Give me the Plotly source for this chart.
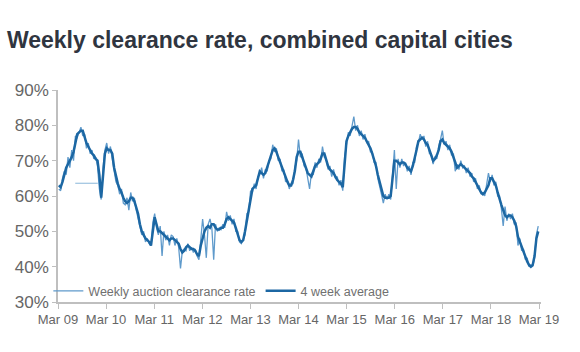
import pandas as pd
import plotly.graph_objects as go

# Fortnightly observation dates (Mar 2009 - Feb 2019)
dates = pd.date_range("2009-03-07", periods=261, freq="14D")

# Weekly auction clearance rate (%)
weekly_rate = [
    62, 61.5, 65, 67, 66,
    71, 68, 73, 70, 77,
    76.5, 78, 79.5, 77, 77.5,
    73.5, 75, 72, 73, 70.5,
    71, 68.5, 62, 59, 68,
    73, 75, 72, 74, 70.5,
    67, 64, 63, 60.5, 62,
    58, 57.5, 59.5, 56, 61,
    58.5, 59.5, 56, 53.5, 51,
    49, 50, 47, 48, 46.5,
    46, 52.5, 55, 51, 49,
    51.5, 43, 50, 47.5, 49,
    46, 49, 48.5, 46, 48,
    45.5, 39.5, 44.5, 45, 44.5,
    46.5, 44.5, 45.5, 44, 45,
    43, 42, 47, 53.5, 49,
    42.5, 52, 53.5, 51, 42,
    52, 50, 51, 50.5, 52,
    51, 55.5, 53, 54.5, 52,
    53.5, 50, 50, 47, 46.5,
    48, 49, 55, 55.5, 61.5,
    61, 63.5, 62, 65.5, 66,
    68, 65, 67.5, 67, 70,
    70.5, 74.5, 72.5, 73.5, 70,
    70.5, 67, 67.5, 64, 64.5,
    62, 63.5, 63.5, 68, 70,
    76, 71, 72, 68.5, 68,
    65.5, 62, 66.5, 66, 69.5,
    68, 70.5, 69.5, 74, 71,
    70.5, 67.5, 68.5, 65.5, 67.5,
    65, 65.5, 63, 64.5, 61.5,
    71, 75, 78, 77, 80,
    82.5, 78.5, 80, 77, 78.5,
    76, 77.5, 75, 75.5, 72.5,
    72.5, 69.5, 69.5, 65, 63,
    60.5, 58, 60.5, 59, 60.5,
    59, 66, 73, 62, 70.5,
    68, 70.5, 68.5, 69.5, 67,
    68.5, 66, 69.5, 69.5, 74,
    75, 77.5, 76, 77, 74,
    75.5, 72, 72, 69, 71,
    70.5, 74, 76, 78.5, 74.5,
    75.5, 73, 74.5, 71.5, 72,
    67, 69, 67.5, 70, 68,
    68.5, 66.5, 68, 65.5, 66.5,
    64, 65, 62, 63, 60.5,
    61, 60, 63, 66.5, 64,
    66, 63, 64, 60, 60,
    56.5, 51.5, 57, 53, 55,
    53.5, 55, 52, 52.5, 46,
    48, 44.5, 45, 42, 42.5,
    40, 40.5, 40, 42.5, 49,
    51.5,
]

# 4 week average (%)
four_week_avg = [
    63, 62.5, 64, 66, 68,
    69, 70, 71, 72.5, 75,
    77.5, 78, 78.5, 78.5, 76.5,
    75, 74, 73, 72, 71.5,
    70.5, 70, 66, 59.5, 66,
    72, 73.5, 73, 73, 72,
    68, 65.5, 63.5, 62, 61,
    59.5, 58.5, 58, 58.5, 59.5,
    59.5, 58.5, 57, 55, 52,
    50, 49, 48, 47.5, 47,
    46, 50, 54, 52, 50,
    50, 49.5, 49, 48.5, 48,
    47.5, 48, 48, 47.5, 47,
    46.5, 45, 44, 44.5, 45.5,
    46, 45.5, 45, 45, 44.5,
    43.5, 43, 46, 48.5, 50,
    51, 51.5, 51, 52, 52,
    51, 50.5, 50.5, 51, 51,
    52, 53.5, 54, 53.5, 53,
    52.5, 51, 49, 47.5, 47,
    47.5, 50, 53, 56.5, 60,
    62, 62.5, 63, 65, 67,
    66.5, 66, 66.5, 68, 69.5,
    71.5, 73, 73.5, 72.5, 71,
    69.5, 68, 66.5, 65, 64,
    63, 63, 64.5, 67, 71,
    72.5, 72.5, 71, 69.5, 67.5,
    66.5, 66, 65.5, 67, 68.5,
    69, 69.5, 70.5, 72, 72,
    70, 68.5, 67.5, 67, 66.5,
    65.5, 64.5, 64, 63.5, 62.5,
    70, 75.5, 77, 78, 79,
    79.5, 79.5, 79, 78, 77.5,
    77, 76.5, 75.5, 74.5, 73.5,
    72, 70.5, 68.5, 66, 64,
    61.5, 60, 59.5, 59.5, 59.5,
    60, 65, 70, 70, 69.5,
    69, 69.5, 69.5, 69, 68,
    67.5, 67, 68.5, 70.5, 73,
    75.5, 76, 76.5, 76, 75,
    74.5, 73, 71.5, 70, 70.5,
    71.5, 73, 75.5, 76, 75,
    74.5, 74, 73.5, 72.5, 71,
    69.5, 68, 68.5, 69, 68.5,
    68, 67.5, 67, 66.5, 65.5,
    65, 64, 63, 62, 61,
    60.5, 61, 62, 63, 65,
    65, 64, 63, 61, 59,
    57.5, 56, 54.5, 54, 54.5,
    54.5, 54, 53, 51.5, 48.5,
    47, 45.5, 44, 42.5, 41.5,
    40.5, 40, 40.5, 43, 48,
    50,
]

# Stray flat segment of the weekly series visible in the chart
flat_dates = ["2009-07-10", "2009-12-28"]
flat_values = [63.6, 63.6]

y_ticks = [30, 40, 50, 60, 70, 80, 90]
y_tick_labels = ["30%", "40%", "50%", "60%", "70%", "80%", "90%"]
x_ticks = [f"{y}-03-01" for y in range(2009, 2020)]
x_tick_labels = ["Mar 09", "Mar 10", "Mar 11", "Mar 12", "Mar 13", "Mar 14",
                 "Mar 15", "Mar 16", "Mar 17", "Mar 18", "Mar 19"]

FONT = "Liberation Sans, Arial, sans-serif"
RAW_COLOR = "#5f9acb"
AVG_COLOR = "#1c67a3"

fig = go.Figure()
fig.add_trace(go.Scatter(x=dates, y=weekly_rate, mode="lines",
                         name="Weekly auction clearance rate",
                         line=dict(color=RAW_COLOR, width=1.3)))
fig.add_trace(go.Scatter(x=flat_dates, y=flat_values, mode="lines",
                         showlegend=False,
                         line=dict(color="#9cc2e0", width=1.2)))
fig.add_trace(go.Scatter(x=dates, y=four_week_avg, mode="lines",
                         name="4 week average",
                         line=dict(color=AVG_COLOR, width=2.5)))

fig.update_layout(
    width=580, height=352,
    margin=dict(l=58, r=39, t=90, b=50),
    paper_bgcolor="white", plot_bgcolor="white",
    font=dict(family=FONT, color="#666666", size=13),
    title=dict(text="<b>Weekly clearance rate, combined capital cities</b>",
               x=0.012, xanchor="left", y=0.886, yanchor="middle",
               font=dict(family=FONT, size=23, color="#2f3540")),
    showlegend=True,
    legend=dict(orientation="h", x=-0.02, xanchor="left", y=-0.02, yanchor="bottom",
                bgcolor="rgba(0,0,0,0)", font=dict(size=12.5, color="#707070"),
                tracegroupgap=0),
)
fig.update_xaxes(
    type="date", range=["2009-03-01", "2019-03-16"],
    tickvals=x_ticks, ticktext=x_tick_labels, tickangle=0,
    showgrid=False, zeroline=False, showline=True, linecolor="#bfbfbf", linewidth=1.5,
    ticks="outside", ticklen=5, tickcolor="#bfbfbf",
    tickfont=dict(size=13, color="#666666"),
)
fig.update_yaxes(
    range=[30, 90], tickvals=y_ticks, ticktext=y_tick_labels,
    showgrid=False, zeroline=False, showline=True, linecolor="#bfbfbf", linewidth=1.5,
    ticks="outside", ticklen=4, tickcolor="#bfbfbf",
    tickfont=dict(size=17, color="#666666"),
)

fig.write_html("out.html")
